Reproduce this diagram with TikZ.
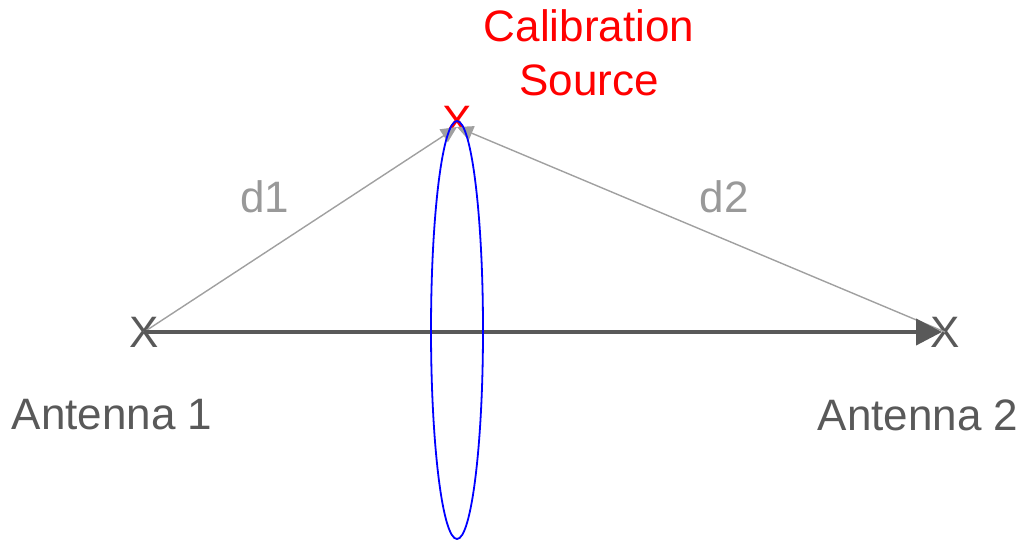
\documentclass[tikz,border=0pt]{standalone}
\usepackage{fontspec}
\setmainfont{Liberation Sans}
\usetikzlibrary{arrows.meta}
\definecolor{dark}{HTML}{595959}
\definecolor{lgray}{HTML}{999999}
\definecolor{lline}{HTML}{A0A0A0}
\tikzset{
  lbl/.style={font=\fontsize{44}{53}\selectfont, inner sep=0pt},
  xmark/.style={font=\fontsize{44}{53}\selectfont, inner sep=0pt, text=dark},
  thin/.style={draw=lline, line width=1.4pt, -{Triangle[length=16pt,width=15pt]}},
  thick/.style={draw=dark, line width=4pt, -{Triangle[length=26pt,width=26pt]}},
}
\begin{document}
\begin{tikzpicture}[x=1pt,y=-1pt]
\useasboundingbox (0,0) rectangle (1024,541);
\node[xmark] (a1) at (144,332) {X};
\node[xmark] (a2) at (945,332) {X};
\node[xmark, text=red] (src) at (457,121) {X};
\coordinate (srcpt) at (457,127);
\coordinate (a2pt) at (942,332);
\node[lbl, text=dark] (t1) at (112,415) {Antenna 1};
\node[lbl, text=dark] (t2) at (918,415) {Antenna 2};
\node[lbl, text=lgray] (d1) at (265,197) {d1};
\node[lbl, text=lgray] (d2) at (724,197) {d2};
\node[lbl, text=red, align=center] (cs) at (589,53) {Calibration\\[1pt]Source};
\draw[thin] (a1.center) -- (srcpt);
\draw[thin] (a2.center) -- (srcpt);
\draw[thick] (a1.center) -- (a2pt);
\draw[blue, line width=1.8pt] (457,330) ellipse [x radius=26, y radius=209];
\end{tikzpicture}
\end{document}
